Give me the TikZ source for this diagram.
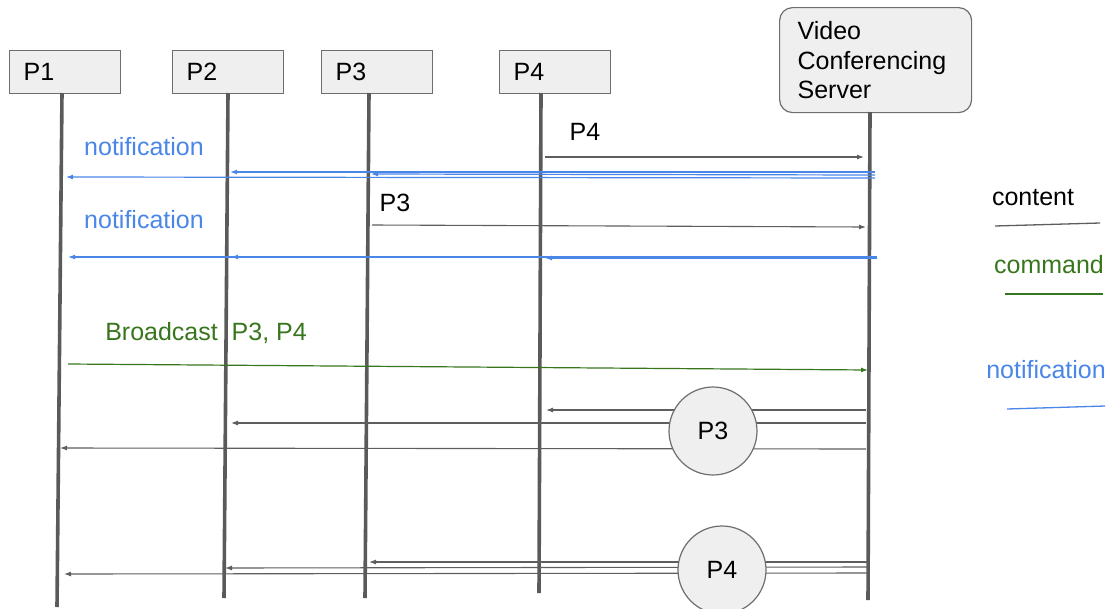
\documentclass[tikz,border=0pt]{standalone}
\usepackage{fontspec}
\setmainfont{Liberation Sans}
\usetikzlibrary{arrows.meta}
\definecolor{boxfill}{HTML}{EFEFEF}
\definecolor{boxline}{HTML}{6E6E6E}
\definecolor{life}{HTML}{5A5A5A}
\definecolor{msg}{HTML}{5E5E5E}
\definecolor{notif}{HTML}{4A86E8}
\definecolor{cmd}{HTML}{38761D}
\tikzset{
  partbox/.style={draw=boxline, line width=1.2pt, fill=boxfill, anchor=north west,
    text width=83pt, align=left, inner xsep=14pt, inner ysep=0pt, minimum height=43pt},
  serverbox/.style={draw=boxline, line width=1.2pt, fill=boxfill, rounded corners=13pt,
    anchor=north west, text width=156pt, align=left, inner xsep=18pt, inner ysep=0pt,
    minimum height=105pt},
  lifeline/.style={draw=life, line width=3.6pt},
  tip/.style={-{Latex[length=7pt,width=5pt]}},
  contentmsg/.style={tip, draw=msg, line width=1.1pt},
  notifmsg/.style={tip, draw=notif, line width=1.2pt},
  cmdmsg/.style={tip, draw=cmd, line width=1.2pt},
  pcircle/.style={circle, draw=boxline, line width=1.2pt, fill=boxfill, minimum size=88pt, inner sep=0pt},
  lbl/.style={inner sep=0pt},
}
\begin{document}
\begin{tikzpicture}[x=1pt,y=-1pt,font=\fontsize{25}{29.5}\selectfont]
\useasboundingbox (0,0) rectangle (1107,608);

% participant boxes
\node[partbox] (p1) at (9,50) {P1};
\node[partbox] (p2) at (172,50) {P2};
\node[partbox] (p3) at (321,50) {P3};
\node[partbox] (p4) at (499,50) {P4};
\node[serverbox] (srv) at (779,7) {Video\\Conferencing\\Server};

% lifeline ends
\coordinate (l1t) at (62,93);  \coordinate (l1b) at (57,607);
\coordinate (l2t) at (228,93); \coordinate (l2b) at (224,598);
\coordinate (l3t) at (369,93); \coordinate (l3b) at (365,598);
\coordinate (l4t) at (541,93); \coordinate (l4b) at (539,593);
\coordinate (lst) at (870,112); \coordinate (lsb) at (868,600);
\draw[lifeline] (l1t) -- (l1b);
\draw[lifeline] (l2t) -- (l2b);
\draw[lifeline] (l3t) -- (l3b);
\draw[lifeline] (l4t) -- (l4b);
\draw[lifeline] (lst) -- (lsb);

% content P4 -> server
\coordinate (a1s) at (545,157); \coordinate (a1e) at (864,157);
\draw[contentmsg] (a1s) -- (a1e);
\node[lbl] (t1) at (585,132) {P4};

% notifications 1
\node[lbl, text=notif] (n1) at (144,147) {notification};
\coordinate (b1s) at (875,178); \coordinate (b1e) at (66,177);
\coordinate (b2s) at (875,172); \coordinate (b2e) at (230,172);
\coordinate (b3s) at (875,175); \coordinate (b3e) at (371,174);
\draw[notifmsg] (b1s) -- (b1e);
\draw[notifmsg] (b2s) -- (b2e);
\draw[notifmsg] (b3s) -- (b3e);

% content P3 -> server
\coordinate (a2s) at (372,225); \coordinate (a2e) at (866,227);
\draw[contentmsg] (a2s) -- (a2e);
\node[lbl] (t2) at (395,203) {P3};

% notifications 2
\node[lbl, text=notif] (n2) at (144,220) {notification};
\coordinate (c1s) at (877,257); \coordinate (c1e) at (68,257);
\coordinate (c2s) at (877,257); \coordinate (c2e) at (231,257);
\coordinate (c3s) at (877,258); \coordinate (c3e) at (545,258);
\draw[notifmsg] (c1s) -- (c1e);
\draw[notifmsg] (c2s) -- (c2e);
\draw[notifmsg] (c3s) -- (c3e);

% command
\node[lbl, text=cmd] (g1) at (206,333) {Broadcast\ \ P3, P4};
\coordinate (d1s) at (68,364); \coordinate (d1e) at (868,370);
\draw[cmdmsg] (d1s) -- (d1e);

% broadcast P3
\coordinate (e1s) at (866,410); \coordinate (e1e) at (546,410);
\coordinate (e2s) at (866,423); \coordinate (e2e) at (231,423);
\coordinate (e3s) at (866,449); \coordinate (e3e) at (60,448);
\draw[contentmsg] (e1s) -- (e1e);
\draw[contentmsg] (e2s) -- (e2e);
\draw[contentmsg] (e3s) -- (e3e);
\node[pcircle] (cp3) at (713,431) {P3};

% broadcast P4
\coordinate (f1s) at (868,562); \coordinate (f1e) at (369,562);
\coordinate (f2s) at (868,567); \coordinate (f2e) at (225,568);
\coordinate (f3s) at (868,573); \coordinate (f3e) at (64,574);
\draw[contentmsg] (f1s) -- (f1e);
\draw[contentmsg] (f2s) -- (f2e);
\draw[contentmsg] (f3s) -- (f3e);
\node[pcircle] (cp4) at (722,570) {P4};

% legend
\node[lbl] (lg1) at (1033,198) {content};
\coordinate (lg1a) at (995,226); \coordinate (lg1b) at (1100,223);
\draw[draw=msg, line width=1.3pt] (lg1a) -- (lg1b);
\node[lbl, text=cmd] (lg2) at (1049,265) {command};
\coordinate (lg2a) at (1005,294); \coordinate (lg2b) at (1103,294);
\draw[draw=cmd, line width=1.3pt] (lg2a) -- (lg2b);
\node[lbl, text=notif] (lg3) at (1046,370) {notification};
\coordinate (lg3a) at (1007,409); \coordinate (lg3b) at (1105,406);
\draw[draw=notif, line width=1.3pt] (lg3a) -- (lg3b);
\end{tikzpicture}
\end{document}
